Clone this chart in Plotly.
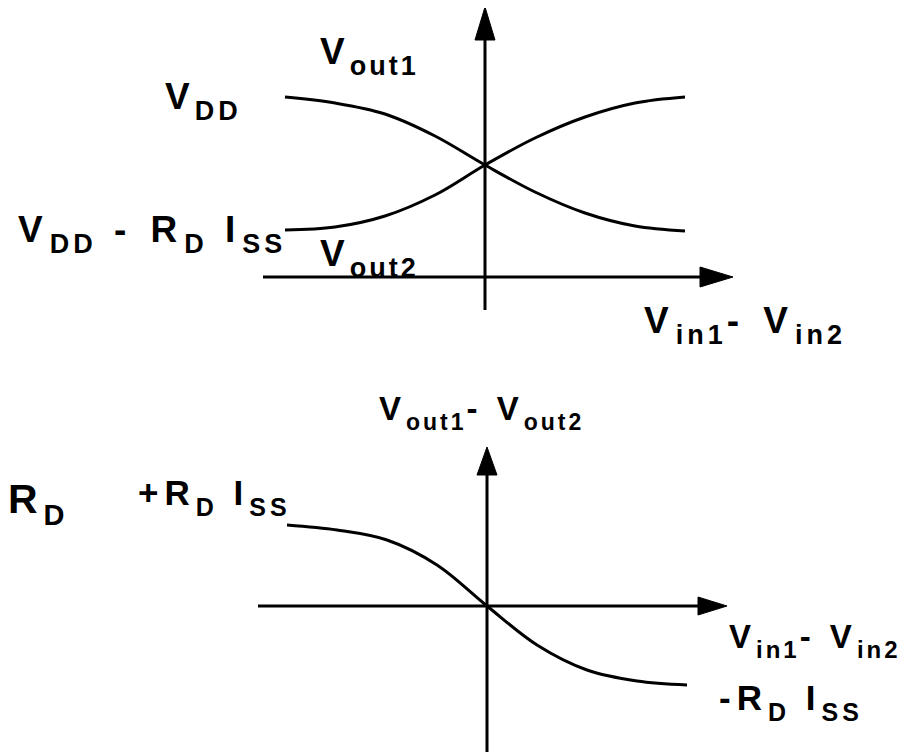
import plotly.graph_objects as go

# differential pair transfer curves (normalized units, 1 unit = 100 px)
vin = [-2, -1.5, -1, -0.5, 0, 0.5, 1, 1.5, 2]
vout1 = [1.80, 1.74, 1.63, 1.41, 1.12, 0.85, 0.64, 0.51, 0.46]
vout2 = [0.47, 0.50, 0.61, 0.82, 1.12, 1.39, 1.60, 1.74, 1.80]
vout_diff = [0.81, 0.76, 0.66, 0.41, 0.0, -0.39, -0.64, -0.75, -0.79]

# page body has an 8px margin, so the figure is shrunk by that much
OFF = 8
W, H = 917 - OFF, 752 - OFF
LW = 3
FONT = "Liberation Sans"

fig = go.Figure()


def curve(x, y, xa, ya):
    fig.add_trace(go.Scatter(x=x, y=y, mode="lines", xaxis=xa, yaxis=ya,
                             line=dict(color="black", width=LW, shape="spline", smoothing=1.0),
                             hoverinfo="skip"))


def arrow(x0, y0, x1, y1, head_len, head_w, xa, ya):
    # axis line with a filled triangular head at (x1, y1)
    dx, dy = x1 - x0, y1 - y0
    n = (dx ** 2 + dy ** 2) ** 0.5
    ux, uy = dx / n, dy / n
    bx, by = x1 - ux * head_len, y1 - uy * head_len
    px, py = -uy * head_w / 2, ux * head_w / 2
    fig.add_trace(go.Scatter(x=[x0, bx], y=[y0, by], mode="lines", xaxis=xa, yaxis=ya,
                             line=dict(color="black", width=LW), hoverinfo="skip"))
    fig.add_trace(go.Scatter(x=[bx + px, x1, bx - px, bx + px], y=[by + py, y1, by - py, by + py],
                             mode="lines", fill="toself", fillcolor="black", xaxis=xa, yaxis=ya,
                             line=dict(color="black", width=1), hoverinfo="skip"))


# top: single-ended outputs
curve(vin, vout1, "x", "y")
curve(vin, vout2, "x", "y")
arrow(0, -0.33, 0, 2.70, 0.33, 0.20, "x", "y")
arrow(-2.22, 0, 2.48, 0, 0.33, 0.20, "x", "y")

# bottom: differential output
curve(vin, vout_diff, "x2", "y2")
arrow(0, -1.6, 0, 1.59, 0.28, 0.20, "x2", "y2")
arrow(-2.29, 0, 2.40, 0, 0.29, 0.18, "x2", "y2")


def label(parts, px, py, sub, main, ssp=3, msp=5):
    # main letters are raised with <sup> so the base text acts as the subscript
    html = ""
    for m, s in parts:
        html += f"<sup><span style='font-size:{main}px;letter-spacing:{msp}px'>{m}</span></sup>"
        if s:
            html += f"<span style='letter-spacing:{ssp}px'>{s}</span>"
    fig.add_annotation(text=html, x=(px - OFF) / W, y=1 - (py - OFF) / H,
                       xref="paper", yref="paper",
                       xanchor="left", yanchor="middle", showarrow=False,
                       font=dict(family=FONT, size=sub, color="black", weight="bold"))


label([("V", "out1")], 318, 56, 27, 37)
label([("V", "DD")], 163, 101, 27, 37, ssp=4)
label([("V", "DD"), (" - R", "D"), (" I", "SS")], 16, 234, 27, 37, ssp=4, msp=7)
label([("V", "out2")], 318, 258, 27, 37)
label([("V", "in1"), ("- V", "in2")], 642, 325, 27, 37, ssp=4, msp=7)

label([("V", "out1"), ("- V", "out2")], 377, 412, 23, 33)
label([("R", "D")], 6, 503, 29, 41, msp=6)
label([("+R", "D"), (" I", "SS")], 136, 497, 25, 35, ssp=4, msp=6)
label([("V", "in1"), ("- V", "in2")], 727, 640, 24, 33, ssp=3, msp=5)
label([("-R", "D"), (" I", "SS")], 717, 702, 25, 35, ssp=4, msp=6)

hidden = dict(visible=False, showgrid=False, zeroline=False, fixedrange=True)
top_lo = 1 - (376 - OFF) / H
fig.update_layout(
    width=W, height=H,
    margin=dict(l=0, r=0, t=0, b=0),
    paper_bgcolor="white", plot_bgcolor="white",
    showlegend=False,
    xaxis=dict(hidden, range=[-4.77, 4.32], domain=[0, 1], anchor="y"),
    yaxis=dict(hidden, range=[-0.99, 2.69], domain=[top_lo, 1], anchor="x"),
    xaxis2=dict(hidden, range=[-4.79, 4.30], domain=[0, 1], anchor="y2"),
    yaxis2=dict(hidden, range=[-1.46, 2.30], domain=[0, top_lo], anchor="x2"),
)

fig.write_html("out.html")
